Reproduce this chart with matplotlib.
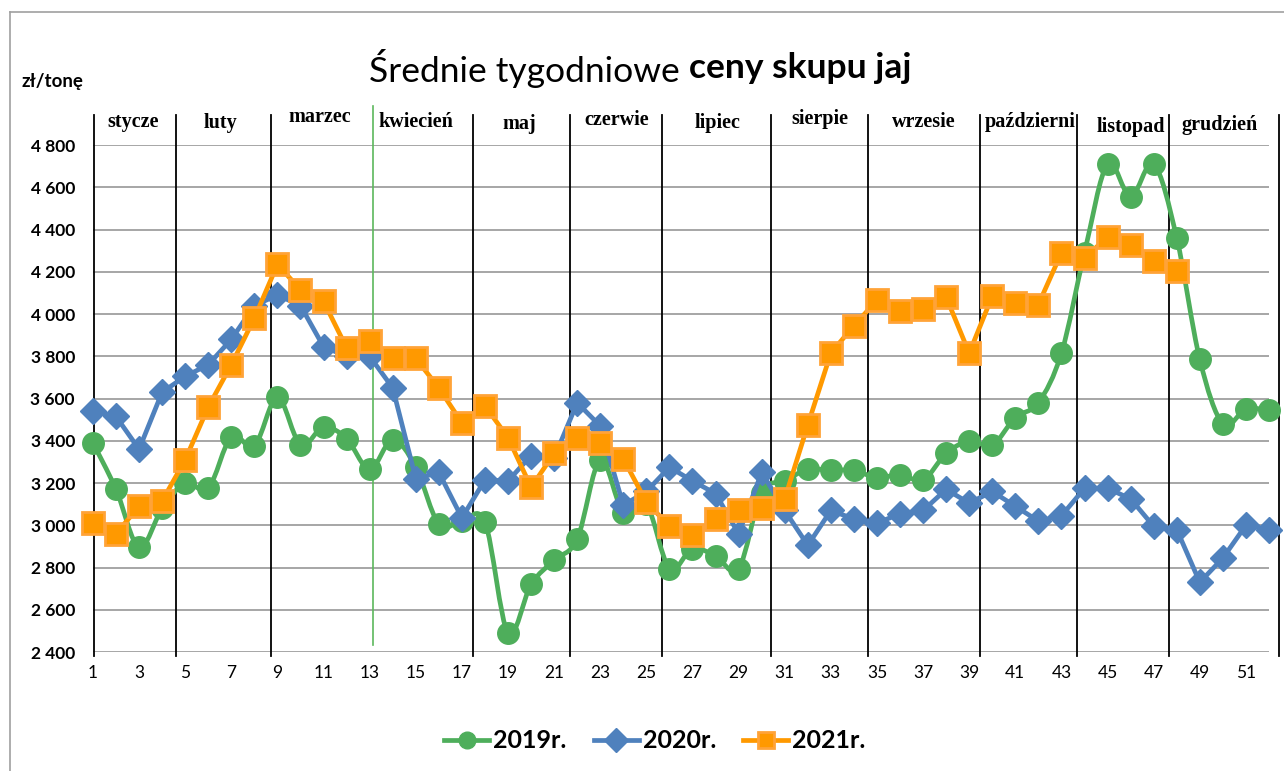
import numpy as np
import matplotlib
matplotlib.use("Agg")
import matplotlib.pyplot as plt
from matplotlib.path import Path
from matplotlib.patches import PathPatch
from matplotlib.lines import Line2D
from matplotlib.ticker import FuncFormatter

plt.rcParams['font.family'] = ['Lato', 'DejaVu Sans']

# weekly average egg purchase prices, zl/tonne
weeks = np.arange(1, 53)
p2019 = [3390, 3170, 2895, 3080, 3200, 3175, 3420, 3375, 3605, 3380,
         3465, 3410, 3265, 3405, 3275, 3005, 3020, 3015, 2490, 2720,
         2835, 2935, 3310, 3060, 3100, 2795, 2890, 2855, 2795, 3155,
         3210, 3265, 3260, 3260, 3225, 3240, 3215, 3340, 3400, 3380,
         3510, 3580, 3815, 4290, 4710, 4555, 4710, 4360, 3785, 3480,
         3550, 3545]
p2020 = [3540, 3515, 3360, 3630, 3705, 3760, 3880, 4040, 4090, 4040,
         3845, 3800, 3800, 3650, 3220, 3250, 3035, 3215, 3210, 3330,
         3320, 3580, 3470, 3095, 3160, 3275, 3210, 3150, 2960, 3250,
         3070, 2905, 3070, 3030, 3010, 3055, 3070, 3170, 3105, 3160,
         3090, 3020, 3045, 3175, 3175, 3125, 2995, 2980, 2730, 2845,
         3000, 2980]
p2021 = [3010, 2960, 3090, 3115, 3310, 3560, 3760, 3980, 4235, 4115,
         4060, 3840, 3870, 3790, 3790, 3650, 3485, 3565, 3415, 3180,
         3340, 3415, 3390, 3315, 3110, 2995, 2955, 3030, 3070, 3080,
         3125, 3475, 3815, 3945, 4065, 4015, 4025, 4080, 3815, 4085,
         4050, 4045, 4290, 4265, 4365, 4325, 4250, 4205]

months = ['stycze', 'luty', 'marzec', 'kwiecień', 'maj', 'czerwie', 'lipiec',
          'sierpie', 'wrzesie', 'październi', 'listopad', 'grudzień']
month_pos = [2.73, 6.51, 10.84, 15.0, 19.47, 23.72, 28.1, 32.53, 37.04, 41.63, 46.01, 49.87]
month_lvl = [4909, 4904, 4932, 4909, 4899, 4918, 4904, 4923, 4909, 4909, 4885, 4895]
separators = [1.04, 4.6, 8.72, 17.48, 21.69, 25.67, 30.4, 34.6, 39.46, 43.67, 47.66, 52.43]
green_mark = 13.14

c19, c20, c21 = '#4eae5b', '#4f81bd', '#ff9900'

fig = plt.figure(figsize=(12.84, 7.71), dpi=100)
ax = fig.add_axes([0.0724, 0.1543, 0.9159, 0.6576])
ax.set_xlim(1, 52)
ax.set_ylim(2400, 4800)
for s in ax.spines.values():
    s.set_visible(False)
ax.set_yticks(np.arange(2400, 4801, 200))
ax.set_xticks(np.arange(1, 52, 2))
ax.yaxis.grid(True, color='#a6a6a6', lw=1.4)
ax.set_axisbelow(True)
ax.yaxis.set_major_formatter(FuncFormatter(lambda v, p: f'{int(v):,}'.replace(',', ' ')))
ax.tick_params(axis='y', length=0, pad=13, labelsize=12.5)
ax.tick_params(axis='x', length=0, pad=9, labelsize=12.5)
for t in ax.get_yticklabels():
    t.set_fontweight('bold')

# month separators
for x in separators:
    ax.plot([x, x], [2381, 4942], color='black', lw=1.3, clip_on=False, zorder=1)
ax.plot([green_mark, green_mark], [2433, 4985], color='#5cb85c', lw=1.2, clip_on=False, zorder=1)
for lab, x, y in zip(months, month_pos, month_lvl):
    ax.text(x, y, lab, ha='center', va='center', family='Liberation Serif',
            fontweight='bold', fontsize=14.5)

# 2019 drawn as a smoothed line (Excel style)
x = weeks.astype(float)
y = np.array(p2019, dtype=float)
verts = [(x[0], y[0])]
codes = [Path.MOVETO]
for i in range(len(x) - 1):
    i0 = max(i - 1, 0)
    i3 = min(i + 2, len(x) - 1)
    c1 = (x[i] + (x[i + 1] - x[i0]) / 6, y[i] + (y[i + 1] - y[i0]) / 6)
    c2 = (x[i + 1] - (x[i3] - x[i]) / 6, y[i + 1] - (y[i3] - y[i]) / 6)
    verts += [c1, c2, (x[i + 1], y[i + 1])]
    codes += [Path.CURVE4] * 3
ax.add_patch(PathPatch(Path(verts, codes), fill=False, edgecolor=c19, lw=3.4,
                       clip_on=False, zorder=3, capstyle='round'))
ax.plot(weeks, p2019, ls='none', marker='o', ms=15.5, color=c19, clip_on=False, zorder=3)

ax.plot(weeks, p2020, color=c20, lw=3.4, marker='D', ms=13.5, clip_on=False, zorder=4)
ax.plot(weeks[:len(p2021)], p2021, color=c21, lw=3.4, marker='s', ms=15.5,
        markerfacecolor=c21, markeredgecolor='#ffa338', markeredgewidth=2,
        clip_on=False, zorder=5)

# title: regular + bold parts
ty = 1 - 68 / 771
t1 = fig.text(0, ty, 'Średnie tygodniowe', fontsize=25.5, va='center')
t2 = fig.text(0, ty, 'ceny skupu jaj', fontsize=25.5, fontweight='bold', va='center')
fig.canvas.draw()
r = fig.canvas.get_renderer()
w1 = t1.get_window_extent(r).width
w2 = t2.get_window_extent(r).width
gap = 9
start = 640 - (w1 + gap + w2) / 2
t1.set_x(start / 1284)
t2.set_x((start + w1 + gap) / 1284)

fig.text(22 / 1284, 1 - 82 / 771, 'zł/tonę', fontsize=13.5, fontweight='bold', va='center')

# outer chart border
fig.add_artist(Line2D([10 / 1284, 1.0], [1 - 12 / 771] * 2, color='#a0a0a0', lw=1.2))
fig.add_artist(Line2D([10 / 1284] * 2, [0, 1 - 12 / 771], color='#a0a0a0', lw=1.2))

handles = [
    Line2D([], [], color=c19, lw=3.4, marker='o', ms=12),
    Line2D([], [], color=c20, lw=3.4, marker='D', ms=12),
    Line2D([], [], color=c21, lw=3.4, marker='s', ms=12, markeredgecolor='#ffa338', markeredgewidth=2),
]
fig.legend(handles, ['2019r.', '2020r.', '2021r.'], loc='center', bbox_to_anchor=(0.51, 1 - 741 / 771),
           ncol=3, frameon=False, prop={'weight': 'bold', 'size': 18},
           handlelength=1.8, handletextpad=0.15, columnspacing=1.1)

fig.savefig('out.png', dpi=100)
